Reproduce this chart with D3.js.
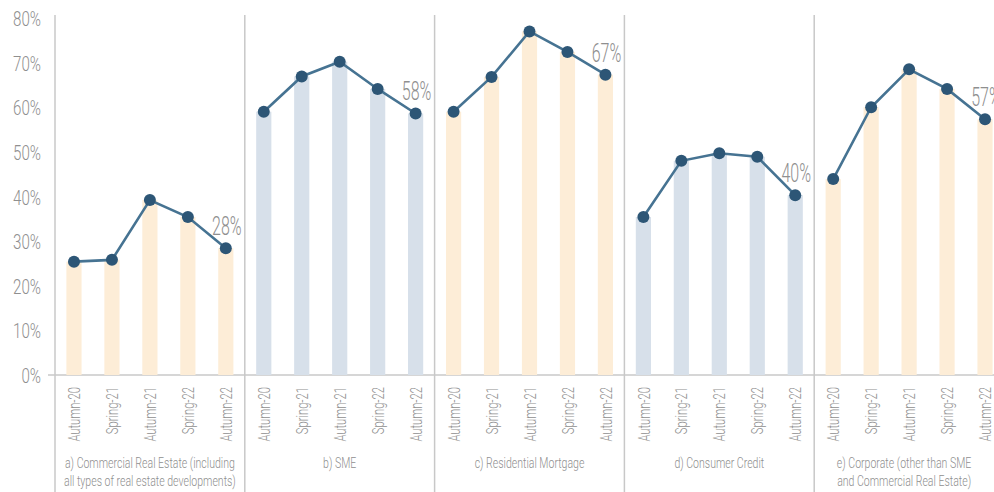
<!DOCTYPE html>
<html lang="en">
<head>
<meta charset="UTF-8">
<title>Lending standards by segment</title>
<script src="https://cdn.jsdelivr.net/npm/d3@7"></script>
<style>
  body { margin: 0; background: #fff; }
  svg text { font-family: "Roboto", "Liberation Sans", sans-serif; font-weight: 300; fill: #8f8f8f; }
</style>
</head>
<body>
<svg width="994" height="492"></svg>
<script>
// data
var periods = ["Autumn-20", "Spring-21", "Autumn-21", "Spring-22", "Autumn-22"];
var panelTitles = [
  ["a) Commercial Real Estate (including", "all types of real estate developments)"],
  ["b) SME"],
  ["c) Residential Mortgage"],
  ["d) Consumer Credit"],
  ["e) Corporate (other than SME", "and Commercial Real Estate)"]
];
var commercialRE = [25.4, 25.8, 39.2, 35.4, 28.4];
var sme          = [59.0, 66.9, 70.2, 64.1, 58.6];
var residential  = [59.0, 66.8, 77.0, 72.4, 67.3];
var consumer     = [35.4, 48.0, 49.7, 48.9, 40.3];
var corporate    = [43.9, 60.0, 68.5, 64.1, 57.3];
var lastLabels   = ["28%", "58%", "67%", "40%", "57%"];
var yTicks = [0, 10, 20, 30, 40, 50, 60, 70, 80];

var series = [commercialRE, sme, residential, consumer, corporate];
var barColors = ["#fdedd7", "#d7e0ea", "#fdedd7", "#d7e0ea", "#fdedd7"];

var svg = d3.select("svg");
var width = +svg.attr("width");
var plotLeft = 55, panelW = 189.8, plotTop = 18, plotBottom = 375;
var squeeze = 0.72; // condensed look

var y = d3.scaleLinear().domain([0, 80]).range([plotBottom, plotTop]);

// y axis labels
var yAxis = svg.append("g")
  .attr("transform", "translate(" + plotLeft + ",0)")
  .call(d3.axisLeft(y).tickValues(yTicks).tickSize(0).tickFormat(function(d) { return d + "%"; }));
yAxis.select(".domain").remove();
yAxis.selectAll("text")
  .attr("font-size", 21)
  .attr("fill", "#939393")
  .attr("font-family", null)
  .attr("x", -14 / squeeze)
  .attr("dy", "0.36em")
  .attr("transform", "scale(" + squeeze + ",1)");

// baseline
svg.append("line")
  .attr("x1", 48).attr("x2", width)
  .attr("y1", y(0)).attr("y2", y(0))
  .attr("stroke", "#c8c8c8").attr("stroke-width", 1.5);

// separators
d3.range(5).forEach(function(i) {
  svg.append("line")
    .attr("x1", plotLeft + i * panelW).attr("x2", plotLeft + i * panelW)
    .attr("y1", 15).attr("y2", 492)
    .attr("stroke", "#c8c8c8").attr("stroke-width", 1.5);
});

series.forEach(function(vals, i) {
  var x0 = plotLeft + i * panelW;
  var x = d3.scaleBand().domain(periods).range([x0, x0 + panelW]).paddingInner(0.6).paddingOuter(0.3);
  var data = periods.map(function(p, j) { return { period: p, value: vals[j] }; });
  var g = svg.append("g");

  g.selectAll(".bar").data(data).enter().append("rect")
    .attr("x", function(d) { return x(d.period); })
    .attr("y", function(d) { return y(d.value); })
    .attr("width", x.bandwidth())
    .attr("height", function(d) { return y(0) - y(d.value); })
    .attr("fill", barColors[i]);

  var cx = function(d) { return x(d.period) + x.bandwidth() / 2; };
  g.append("path").datum(data)
    .attr("fill", "none")
    .attr("stroke", "#467392")
    .attr("stroke-width", 2.6)
    .attr("d", d3.line().x(cx).y(function(d) { return y(d.value); }));

  g.selectAll(".dot").data(data).enter().append("circle")
    .attr("cx", cx)
    .attr("cy", function(d) { return y(d.value); })
    .attr("r", 6)
    .attr("fill", "#2d5676");

  // label on last point
  var last = data[data.length - 1];
  g.append("text")
    .attr("transform", "translate(" + (cx(last) + 1) + "," + (y(last.value) - 13) + ") scale(0.64,1)")
    .attr("text-anchor", "middle")
    .attr("font-size", 25)
    .attr("fill", "#9a9a9a")
    .text(lastLabels[i]);

  // category axis
  var xAxis = g.append("g")
    .attr("transform", "translate(0," + y(0) + ")")
    .call(d3.axisBottom(x).tickSize(0));
  xAxis.select(".domain").remove();
  xAxis.selectAll("text")
    .attr("font-size", 17)
    .attr("font-family", null)
    .attr("fill", "#9a9a9a")
    .attr("text-anchor", "end")
    .attr("x", -12 / 0.66)
    .attr("y", 0)
    .attr("dy", "0.36em")
    .attr("transform", "rotate(-90) scale(0.66,1)");

  // panel title
  var tx = (x0 + Math.min(x0 + panelW, width)) / 2;
  panelTitles[i].forEach(function(line, k) {
    g.append("text")
      .attr("transform", "translate(" + tx + "," + (468 + k * 18) + ") scale(0.68,1)")
      .attr("text-anchor", "middle")
      .attr("font-size", 15.5)
      .attr("fill", "#9a9a9a")
      .text(line);
  });
});
</script>
</body>
</html>
